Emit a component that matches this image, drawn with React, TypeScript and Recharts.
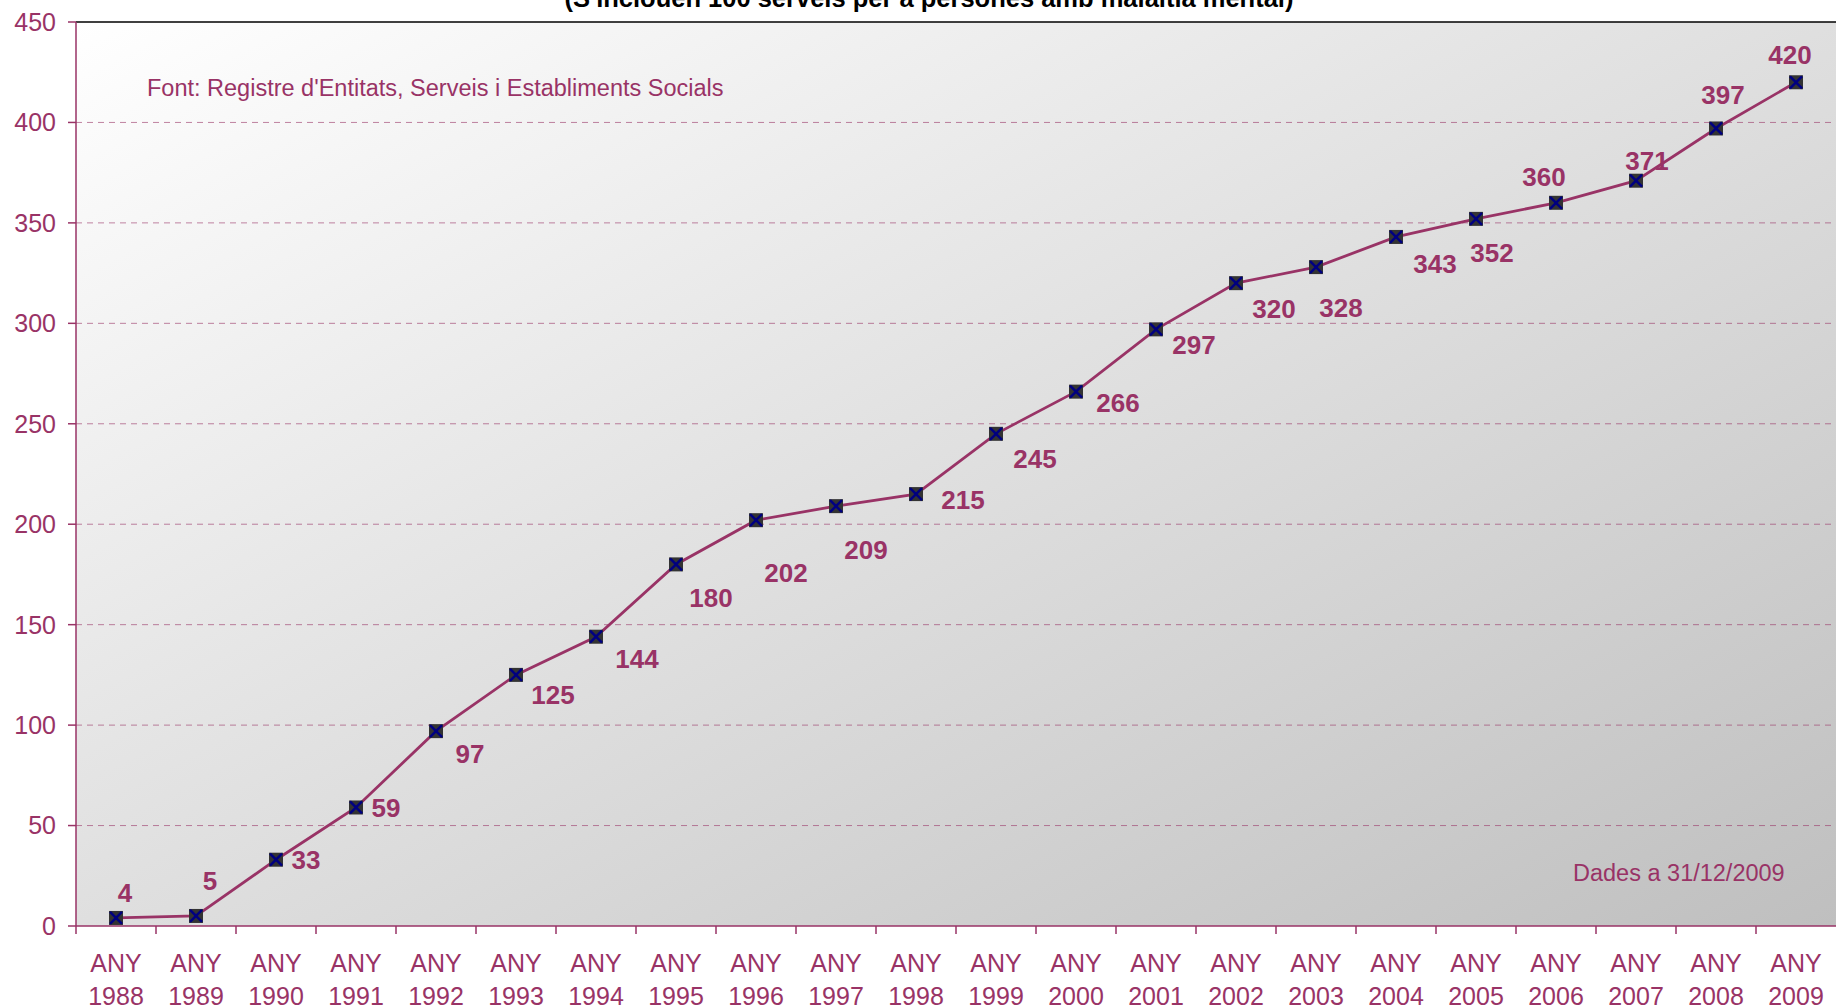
import {
  LineChart,
  Line,
  XAxis,
  YAxis,
  CartesianGrid,
  ReferenceLine,
  LabelList,
} from "recharts";

const years = [
  "1988", "1989", "1990", "1991", "1992", "1993", "1994", "1995", "1996", "1997", "1998",
  "1999", "2000", "2001", "2002", "2003", "2004", "2005", "2006", "2007", "2008", "2009",
];
const services = [
  4, 5, 33, 59, 97, 125, 144, 180, 202, 209, 215, 245, 266, 297, 320, 328, 343, 352, 360, 371, 397, 420,
];
const yTicks = [0, 50, 100, 150, 200, 250, 300, 350, 400, 450];
const gridValues = [50, 100, 150, 200, 250, 300, 350, 400];

// where each value label sits relative to its marker (dx, dy)
const labelOffsets: [number, number][] = [
  [9, -25], [14, -35], [30, 0], [30, 0], [34, 23], [37, 20], [41, 22], [35, 33],
  [30, 52], [30, 43], [47, 6], [39, 25], [42, 11], [38, 15], [38, 25], [25, 41],
  [39, 27], [16, 34], [-12, -26], [11, -20], [7, -34], [-6, -28],
];

const data = years.map((year, i) => ({ year, services: services[i] }));

const maroon = "#993366";
const font = "Arial, 'Liberation Sans', sans-serif";

function YearTick({ x, y, payload }: any) {
  return (
    <g>
      <line x1={x - 40} x2={x - 40} y1={y} y2={y + 8} stroke={maroon} strokeWidth={1.5} />
      <text x={x} y={y + 46} textAnchor="middle" fill={maroon} fontSize={25}>
        <tspan x={x}>ANY</tspan>
        <tspan x={x} dy={33}>
          {payload.value}
        </tspan>
      </text>
    </g>
  );
}

function Marker({ cx, cy }: any) {
  if (cx == null || cy == null) return null;
  return (
    <g>
      <rect x={cx - 7} y={cy - 7} width={14} height={14} fill="#333333" />
      <line x1={cx - 6} y1={cy - 6} x2={cx + 6} y2={cy + 6} stroke="#000080" strokeWidth={2.5} />
      <line x1={cx - 6} y1={cy + 6} x2={cx + 6} y2={cy - 6} stroke="#000080" strokeWidth={2.5} />
    </g>
  );
}

function ValueLabel({ x, y, value, index }: any) {
  const i = index ?? services.indexOf(value);
  const [dx, dy] = labelOffsets[i] || [0, -25];
  return (
    <text
      x={x + dx}
      y={y + dy}
      dy="0.36em"
      textAnchor="middle"
      fill={maroon}
      fontSize={26}
      fontWeight="bold"
    >
      {value}
    </text>
  );
}

export default function App() {
  return (
    <div style={{ position: "relative", width: 1836, height: 1008, fontFamily: font, overflow: "hidden" }}>
      <style>{"body{margin:0}"}</style>
      <LineChart width={1836} height={1008} data={data} margin={{ top: 22, right: 0, bottom: 0, left: 0 }}>
        <defs>
          <linearGradient id="plotBg" x1="0" y1="0" x2="1" y2="1">
            <stop offset="0%" stopColor="#ffffff" />
            <stop offset="100%" stopColor="#bfbfbf" />
          </linearGradient>
        </defs>
        <CartesianGrid horizontal={false} vertical={false} fill="url(#plotBg)" fillOpacity={1} stroke="none" />
        {gridValues.map((v) => (
          <ReferenceLine key={v} y={v} stroke={maroon} strokeOpacity={0.6} strokeDasharray="6 5" />
        ))}
        <ReferenceLine y={450} stroke="#000000" strokeWidth={1.5} />
        <XAxis
          dataKey="year"
          height={82}
          padding={{ left: 40, right: 40 }}
          stroke={maroon}
          strokeWidth={1.5}
          tickLine={false}
          tickSize={0}
          tickMargin={0}
          interval={0}
          tick={<YearTick />}
        />
        <YAxis
          width={76}
          domain={[0, 450]}
          ticks={yTicks}
          interval={0}
          stroke={maroon}
          strokeWidth={1.5}
          tickSize={8}
          tickMargin={12}
          tick={{ fill: maroon, fontSize: 25 }}
        />
        <Line
          dataKey="services"
          stroke={maroon}
          strokeWidth={2.8}
          dot={(p: any) => <Marker key={`m-${p.index}`} {...p} />}
          isAnimationActive={false}
        >
          <LabelList dataKey="services" content={<ValueLabel />} />
        </Line>
      </LineChart>
      <svg
        width={1836}
        height={1008}
        style={{ position: "absolute", left: 0, top: 0, pointerEvents: "none" }}
      >
        <text x={929} y={7} textAnchor="middle" fontSize={25.5} fontWeight="bold" fill="#000000">
          (S'inclouen 100 serveis per a persones amb malaltia mental)
        </text>
        <text x={147} y={96} fontSize={23.5} fill={maroon}>
          Font: Registre d'Entitats, Serveis i Establiments Socials
        </text>
        <text x={1573} y={881} fontSize={23.5} fill={maroon}>
          Dades a 31/12/2009
        </text>
      </svg>
    </div>
  );
}
